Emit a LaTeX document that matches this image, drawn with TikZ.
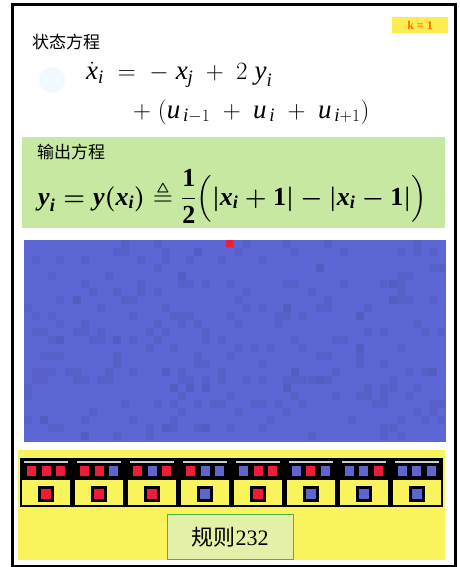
\documentclass[tikz,border=0pt]{standalone}
\usepackage{amsmath, amssymb}
\usepackage[no-math]{fontspec}
\setmainfont{Liberation Serif}
\newfontfamily\cjk{Noto Sans CJK SC}
\newcommand{\mv}[1]{\textit{#1}}
\newcommand{\mb}[1]{\textbf{\textit{#1}}}
\definecolor{panelGreen}{RGB}{198, 232, 160}
\definecolor{caBlue}{RGB}{92, 102, 212}
\definecolor{cR}{RGB}{236, 28, 58}
\definecolor{cB}{RGB}{96, 100, 206}
\definecolor{bandYellow}{RGB}{250, 244, 92}
\definecolor{ruleGreen}{RGB}{228, 240, 168}
\definecolor{badgeYellow}{RGB}{255, 236, 80}

\begin{document}
\begin{tikzpicture}[x=1pt, y=-1pt,
    title/.style={anchor=west, inner sep=0pt, font=\cjk\fontsize{17}{20}\selectfont},
    eqn/.style={anchor=base west, inner sep=0pt, font=\fontsize{27}{30}\selectfont}]
  \useasboundingbox (0,0) rectangle (460,567);
  \fill[white] (0,0) rectangle (460,567);
  % outer frame
  \draw[line width=3pt] (12,5) rectangle (455,566);

  % state equation
  \node[title] (stateTitle) at (32,42) {状态方程};
  \node[fill=badgeYellow, minimum width=56pt, minimum height=16pt, inner sep=0pt,
        text=orange!85!red, font=\bfseries\fontsize{12}{12}\selectfont] (kBadge) at (420,25) {k = 1};
  \fill[cyan!6] (52,80) circle (13);
  \node[eqn] (stateEqA) at (86,80)
    {$\dot{\mv{x}}_{\mv{i}} \;=\; -\;\mv{x}_{\mv{j}} \;+\; 2\;\mv{y}_{\mv{i}}$};
  \node[eqn] (stateEqB) at (133,118)
    {$+\;(\mv{u}_{\,\mv{i}-1} \;+\; \mv{u}_{\,\mv{i}} \;+\; \mv{u}_{\,\mv{i}+1})$};

  % output equation
  \fill[panelGreen] (22,137) rectangle (445,228);
  \node[title] (outTitle) at (37,152) {输出方程};
  \node[eqn, font=\fontsize{26}{30}\selectfont\boldmath] (outEq) at (38,205)
    {$\mb{y}_{\mb{i}} = \mb{y}(\mb{x}_{\mb{i}}) \triangleq
      \dfrac{\textbf{1}}{\textbf{2}}\Bigl(\lvert\mb{x}_{\mb{i}}+\textbf{1}\rvert
      - \lvert\mb{x}_{\mb{i}}-\textbf{1}\rvert\Bigr)$};

  % cellular automaton evolution
  \fill[caBlue] (24,240) rectangle (446,442);
  \pgfmathsetseed{232}
  \foreach \t in {1,...,260}{
    \pgfmathsetmacro\rx{24+int(rnd*52)*8.1}
    \pgfmathsetmacro\ry{240+int(rnd*25)*8}
    \fill[caBlue!80!black, opacity=0.25] (\rx,\ry) rectangle ++(8,8);
  }
  \fill[cR] (226,240) rectangle (233,247);

  % rule table
  \fill[bandYellow] (18,450) rectangle (445,560);
  \fill[black] (20,458) rectangle (443,507);
  \foreach \a/\b/\c/\r [count=\k from 0] in
      {R/R/R/R, R/R/B/R, R/B/R/R, R/B/B/B, B/R/R/R, B/R/B/B, B/B/R/B, B/B/B/B}{
    \pgfmathsetmacro\cx{46.4+52.9*\k}
    \draw[gray!40, line width=1.5pt] (\cx-22,462) -- (\cx+22,462);
    \fill[c\a] (\cx-19,466) rectangle ++(9,10);
    \fill[c\b] (\cx-4.5,466) rectangle ++(9,10);
    \fill[c\c] (\cx+10,466) rectangle ++(9,10);
    \fill[bandYellow] (\cx-24,480) rectangle (\cx+24,505);
    \fill[black] (\cx-8,486) rectangle ++(16,16);
    \fill[c\r] (\cx-5,489) rectangle ++(10,10);
  }
  \node[draw=green!45!gray, fill=ruleGreen, minimum width=126pt, minimum height=45pt,
        font=\fontsize{22}{26}\selectfont] (ruleName) at (230,537) {{\cjk 规则}232};
\end{tikzpicture}
\end{document}
